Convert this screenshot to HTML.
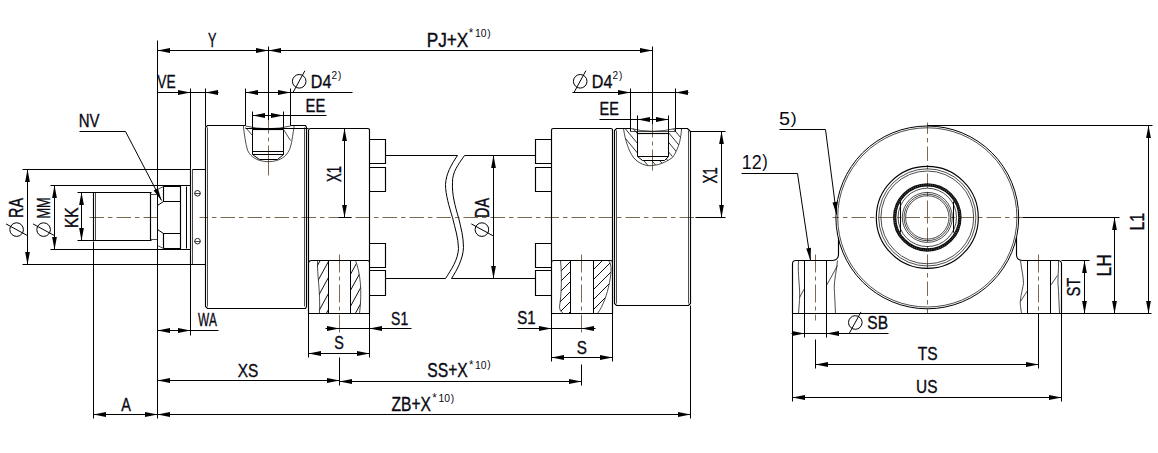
<!DOCTYPE html>
<html lang="en"><head><meta charset="utf-8"><title>Cylinder dimensions</title>
<style>
html,body{margin:0;padding:0;background:#fff}
svg{display:block}
.o{fill:none;stroke:#000;stroke-width:1.15}
.t{fill:none;stroke:#111;stroke-width:.75}
.d{fill:none;stroke:#000;stroke-width:1}
.c{fill:none;stroke:#7d6850;stroke-width:1;stroke-dasharray:14.5 4 4.5 4}
.a{fill:#000;stroke:none}
.w{fill:#fff;stroke:none}
text.ns{stroke:none}
text{font-family:"Liberation Sans",Arial,sans-serif;font-size:100px;fill:#0a0a14;stroke:#0a0a14;stroke-width:2;stroke-linejoin:round;font-kerning:none}
</style></head><body>
<svg width="1158" height="453" viewBox="0 0 1158 453">
<rect class="w" width="1158" height="453"/>
<path class="c" d="M89.5 217.5H157.5"/>
<path class="c" d="M199.5 217.5H695.5" style="stroke-dashoffset:6"/>
<path class="c" d="M268.5 120.5V178.5" style="stroke-dasharray:13 4 4 4 30"/>
<path class="c" d="M652.5 124.5V170.5" style="stroke-dasharray:13 4 4 4 30"/>
<path class="c" d="M339.5 254.5V333.5" style="stroke-dasharray:18 4 4 4"/>
<path class="c" d="M581.5 254.5V333.5" style="stroke-dasharray:18 4 4 4"/>
<path class="d" d="M157.5 40.5L157.5 418.5"/>
<path class="d" d="M157.5 50.5L652.5 50.5"/>
<path class="a" d="M157.50 50.50L170.00 48.10L170.00 52.90Z"/>
<path class="a" d="M268.50 50.50L256.00 52.90L256.00 48.10Z"/>
<path class="a" d="M268.50 50.50L281.00 48.10L281.00 52.90Z"/>
<path class="a" d="M652.50 50.50L640.00 52.90L640.00 48.10Z"/>
<path class="d" d="M268.5 46.5L268.5 120.5"/>
<path class="d" d="M652.5 46.5L652.5 124.5"/>
<path class="d" d="M157.5 92.5L218.5 92.5"/>
<path class="d" d="M190.5 88.5L190.5 335.5"/>
<path class="d" d="M205.5 88.5L205.5 126.5"/>
<path class="a" d="M190.50 92.50L178.00 94.90L178.00 90.10Z"/>
<path class="a" d="M205.50 92.50L218.00 90.10L218.00 94.90Z"/>
<path class="d" d="M245.5 92.5L352.5 92.5"/>
<path class="d" d="M245.5 88.5L245.5 125.5"/>
<path class="d" d="M290.5 88.5L290.5 125.5"/>
<path class="a" d="M245.50 92.50L258.00 90.10L258.00 94.90Z"/>
<path class="a" d="M290.50 92.50L278.00 94.90L278.00 90.10Z"/>
<circle class="d" cx="299.2" cy="81.3" r="6.8"/>
<path class="d" d="M293.1 92.3L304.9 70.7"/>
<path class="d" d="M252.5 115.5L326.5 115.5"/>
<path class="d" d="M252.5 111.5L252.5 129.5"/>
<path class="d" d="M283.5 111.5L283.5 129.5"/>
<path class="a" d="M252.50 115.50L265.00 113.10L265.00 117.90Z"/>
<path class="a" d="M283.50 115.50L271.00 117.90L271.00 113.10Z"/>
<path class="d" d="M572.5 92.5L688.5 92.5"/>
<path class="d" d="M630.5 88.5L630.5 131.5"/>
<path class="d" d="M675.5 88.5L675.5 131.5"/>
<path class="a" d="M630.50 92.50L618.00 94.90L618.00 90.10Z"/>
<path class="a" d="M675.50 92.50L688.00 90.10L688.00 94.90Z"/>
<circle class="d" cx="580.2" cy="81.3" r="6.8"/>
<path class="d" d="M574.1 92.3L585.9 70.7"/>
<path class="d" d="M599.5 119.5L668.5 119.5"/>
<path class="d" d="M637.5 115.5L637.5 133.5"/>
<path class="d" d="M668.5 115.5L668.5 133.5"/>
<path class="a" d="M637.50 119.50L650.00 117.10L650.00 121.90Z"/>
<path class="a" d="M668.50 119.50L656.00 121.90L656.00 117.10Z"/>
<path class="d" d="M79.5 131.5L125.5 131.5"/>
<path class="d" d="M125.5 131.5L161.5 200.5"/>
<path class="a" d="M161.50 200.50L153.64 190.49L157.90 188.29Z"/>
<path class="d" d="M22.5 169.5L190.5 169.5"/>
<path class="d" d="M22.5 264.5L205.5 264.5"/>
<path class="d" d="M27.5 169.5L27.5 264.5"/>
<path class="a" d="M27.50 169.50L29.90 182.00L25.10 182.00Z"/>
<path class="a" d="M27.50 264.50L25.10 252.00L29.90 252.00Z"/>
<circle class="d" cx="16.6" cy="229.6" r="6.8"/>
<path class="d" d="M27.6 235.7L6.0 223.9"/>
<path class="d" d="M50.5 185.5L190.5 185.5"/>
<path class="d" d="M50.5 249.5L190.5 249.5"/>
<path class="d" d="M54.5 185.5L54.5 249.5"/>
<path class="a" d="M54.50 185.50L56.90 198.00L52.10 198.00Z"/>
<path class="a" d="M54.50 249.50L52.10 237.00L56.90 237.00Z"/>
<circle class="d" cx="43.6" cy="229.6" r="6.8"/>
<path class="d" d="M54.6 235.7L33.0 223.9"/>
<path class="d" d="M77.5 192.5L151.5 192.5"/>
<path class="d" d="M77.5 240.5L151.5 240.5"/>
<path class="d" d="M81.5 192.5L81.5 240.5"/>
<path class="a" d="M81.50 192.50L83.90 205.00L79.10 205.00Z"/>
<path class="a" d="M81.50 240.50L79.10 228.00L83.90 228.00Z"/>
<path class="d" d="M344.5 128.5L344.5 217.5"/>
<path class="a" d="M344.50 128.50L346.90 141.00L342.10 141.00Z"/>
<path class="a" d="M344.50 217.50L342.10 205.00L346.90 205.00Z"/>
<path class="d" d="M338.5 217.5L351.5 217.5"/>
<path class="d" d="M493.5 155.5L493.5 278.5"/>
<path class="a" d="M493.50 155.50L495.90 168.00L491.10 168.00Z"/>
<path class="a" d="M493.50 278.50L491.10 266.00L495.90 266.00Z"/>
<circle class="d" cx="481.9" cy="229.6" r="6.8"/>
<path class="d" d="M492.9 235.7L471.3 223.9"/>
<path class="d" d="M690.5 131.5L725.5 131.5"/>
<path class="d" d="M695.5 217.5L725.5 217.5"/>
<path class="d" d="M721.5 131.5L721.5 217.5"/>
<path class="a" d="M721.50 131.50L723.90 144.00L719.10 144.00Z"/>
<path class="a" d="M721.50 217.50L719.10 205.00L723.90 205.00Z"/>
<path class="d" d="M157.5 330.5L218.5 330.5"/>
<path class="a" d="M157.50 330.50L170.00 328.10L170.00 332.90Z"/>
<path class="a" d="M190.50 330.50L178.00 332.90L178.00 328.10Z"/>
<path class="d" d="M325.5 328.5L411.5 328.5"/>
<path class="a" d="M339.50 328.50L327.00 330.90L327.00 326.10Z"/>
<path class="a" d="M369.50 328.50L382.00 326.10L382.00 330.90Z"/>
<path class="d" d="M308.5 313.5L308.5 357.5"/>
<path class="d" d="M369.5 313.5L369.5 357.5"/>
<path class="d" d="M308.5 353.5L369.5 353.5"/>
<path class="a" d="M308.50 353.50L321.00 351.10L321.00 355.90Z"/>
<path class="a" d="M369.50 353.50L357.00 355.90L357.00 351.10Z"/>
<path class="d" d="M517.5 328.5L595.5 328.5"/>
<path class="a" d="M551.50 328.50L539.00 330.90L539.00 326.10Z"/>
<path class="a" d="M581.50 328.50L594.00 326.10L594.00 330.90Z"/>
<path class="d" d="M551.5 313.5L551.5 361.5"/>
<path class="d" d="M612.5 313.5L612.5 361.5"/>
<path class="d" d="M551.5 357.5L612.5 357.5"/>
<path class="a" d="M551.50 357.50L564.00 355.10L564.00 359.90Z"/>
<path class="a" d="M612.50 357.50L600.00 359.90L600.00 355.10Z"/>
<path class="d" d="M157.5 380.5L339.5 380.5"/>
<path class="d" d="M339.5 381.5L581.5 381.5"/>
<path class="d" d="M339.5 357.5L339.5 385.5"/>
<path class="d" d="M581.5 364.5L581.5 385.5"/>
<path class="a" d="M157.50 380.50L170.00 378.10L170.00 382.90Z"/>
<path class="a" d="M339.50 380.50L327.00 382.90L327.00 378.10Z"/>
<path class="a" d="M339.50 381.50L352.00 379.10L352.00 383.90Z"/>
<path class="a" d="M581.50 381.50L569.00 383.90L569.00 379.10Z"/>
<path class="d" d="M93.5 241.5L93.5 418.5"/>
<path class="d" d="M93.5 414.5L690.5 414.5"/>
<path class="d" d="M690.5 305.5L690.5 418.5"/>
<path class="a" d="M93.50 414.50L106.00 412.10L106.00 416.90Z"/>
<path class="a" d="M157.50 414.50L145.00 416.90L145.00 412.10Z"/>
<path class="a" d="M157.50 414.50L170.00 412.10L170.00 416.90Z"/>
<path class="a" d="M690.50 414.50L678.00 416.90L678.00 412.10Z"/>
<path class="o" d="M93.5 192.5H150.5V240.5H93.5Z"/>
<path class="t" d="M95.5 192.5L95.5 240.5"/>
<path class="t" d="M150.5 194.5H157.5M150.5 239.5H157.5"/>
<path class="o" d="M163.5 186.5H180.5V248.5H163.5M163.5 186.5V201.5H180.5M163.5 248.5V233.5H180.5"/>
<path class="d" d="M157.5 205.5L163.5 201.5M157.5 229.5L163.5 233.5"/>
<path class="t" d="M157.5 189.5L163.5 186.5M157.5 245.5L163.5 248.5"/>
<path class="d" d="M186.5 186.5L186.5 248.5"/>
<path class="o" d="M190.5 169.5V264.5"/>
<path class="t" d="M192.5 169.5L192.5 264.5"/>
<path class="d" d="M192.5 169.5H205.5M192.5 264.5H205.5"/>
<circle class="t" cx="197.5" cy="193.3" r="2.8" style="stroke-width:.9"/>
<path class="t" d="M194.5 193.5L200.5 193.5"/>
<circle class="t" cx="197.5" cy="241.2" r="2.8" style="stroke-width:.9"/>
<path class="t" d="M194.5 241.5L200.5 241.5"/>
<path class="o" d="M205.5 127.5V306.5L207.5 308.5H305.5L306.5 306.5V127.5L305.5 125.5H290.5M245.5 125.5H207.5L205.5 127.5"/>
<path class="t" d="M207.5 127.5L207.5 306.5"/>
<path class="t" d="M304.5 127.5L304.5 306.5"/>
<path class="t" d="M245.5 126Q268 131.5 290.5 126"/>
<path class="d" d="M245.5 128.5H308.5"/>
<path class="t" d="M243.3 125.8C243.8 130 244.3 134 245 138.3C245.7 142.5 246.3 146.5 247.5 150C248.7 153 250.3 155 252.5 156.7C254.7 158.4 257 159.6 260 160.5C262.8 161.3 265.5 161.7 268.3 161.7C271.1 161.7 274 161.3 276.7 160.5C279.5 159.6 282 158.5 284.2 156.7C286.8 154.5 288.8 151.5 290 148.3C291.3 144.8 292 140.5 292.5 136.7C293 133 293.8 129.5 294.2 125.8"/>
<path class="o" d="M252.5 129.5H283.5"/>
<path class="d" d="M252.5 129.5V154.5H283.5V129.5M252.5 151.5H283.5M252.5 154.5L259.5 159.5H277.5L283.5 154.5"/>
<path class="t" d="M245.5 127.5L252.5 135.5M283.5 129.5L290.5 140.5"/>
<path class="o" d="M308.5 313.5V130.5Q308.8 128.5 310.5 128.5H367.5Q369.7 128.5 369.5 130.5V313.5Z"/>
<path class="o" d="M308.5 262.5Q309 260.5 311.5 260.5H367.5Q369.5 260.5 369.5 262.5"/>
<path class="d" d="M328.5 260.5V313.5M350.5 260.5V313.5"/>
<clipPath id="hl1"><path d="M317.5 260.5C317 275 320.5 290 319.5 313.3H328.3V260.5Z"/></clipPath>
<clipPath id="hl2"><path d="M350.8 260.5H355C360 272 362.5 290 359.5 313.3H350.8Z"/></clipPath>
<path class="t" d="M317.5 260.5C317 275 320.5 290 319.5 313.5M355.5 260.5C360 272 362.5 290 359.5 313.5"/>
<path class="t" style="stroke-width:.95;stroke:#000" clip-path="url(#hl1)" d="M315 222.0L330 194.7M315 238.0L330 210.7M315 254.0L330 226.7M315 270.0L330 242.7M315 286.0L330 258.7M315 302.0L330 274.7M315 318.0L330 290.7M315 334.0L330 306.7M315 350.0L330 322.7M315 366.0L330 338.7"/>
<path class="t" style="stroke-width:.95;stroke:#000" clip-path="url(#hl2)" d="M349 229.0L364 201.7M349 245.0L364 217.7M349 261.0L364 233.7M349 277.0L364 249.7M349 293.0L364 265.7M349 309.0L364 281.7M349 325.0L364 297.7M349 341.0L364 313.7M349 357.0L364 329.7M349 373.0L364 345.7"/>
<path class="o" d="M369.5 139.5H385.5V163.5H369.5"/>
<path class="o" d="M369.5 167.5H385.5V191.5H369.5"/>
<path class="o" d="M369.5 243.5H385.5V267.5H369.5"/>
<path class="o" d="M369.5 270.5H385.5V295.5H369.5"/>
<path class="o" d="M551.5 139.5H535.5V163.5H551.5"/>
<path class="o" d="M551.5 167.5H535.5V191.5H551.5"/>
<path class="o" d="M551.5 243.5H535.5V267.5H551.5"/>
<path class="o" d="M551.5 270.5H535.5V295.5H551.5"/>
<path class="o" d="M385.5 155.5H457.5M464.5 155.5H535.5M385.5 278.5H445.5M451.5 278.5H535.5"/>
<path class="d" d="M457.5 155.5C451 165 446 174 445.5 184.5C445.6 195 449 206 452.5 217.5C455 228 458.3 238 458.5 248.5C458 260 451 270 445.5 278.5"/>
<path class="d" d="M464.5 155.5C458 165 452.3 172 452.5 182.5C451.8 194 455 206 458.5 217.5C461 228 463.5 237 463.5 247.5C463 259 457 270 451.5 278.5"/>
<path class="o" d="M551.5 313.5V130.5Q551.5 128.4 553.5 128.5H610.5Q612.6 128.4 612.5 130.5V313.5Z"/>
<path class="o" d="M551.5 262.5Q551.7 260.4 553.5 260.5H610.5Q612.4 260.4 612.5 262.5"/>
<path class="d" d="M570.5 260.5V313.5M593.5 260.5V313.5"/>
<clipPath id="hr1"><path d="M560.8 260.4C562 275 561.5 295 559.5 306C559.5 310 561 312 563 313.3H570.5V260.4Z"/></clipPath>
<clipPath id="hr2"><path d="M593.3 260.4H608C612 264 611.5 272 609.5 282C607 295 603 306 597 313.3H593.3Z"/></clipPath>
<path class="t" d="M560.5 260.5C562 275 561.5 295 559.5 306.5C559.5 310 561 312 563.5 313.5M608.5 260.5C612 264 611.5 272 609.5 282.5C607 295 603 306 597.5 313.5"/>
<path class="t" style="stroke-width:.95;stroke:#000" clip-path="url(#hr1)" d="M558 224.0L572 210.0M558 234.0L572 220.0M558 244.0L572 230.0M558 254.0L572 240.0M558 264.0L572 250.0M558 274.0L572 260.0M558 284.0L572 270.0M558 294.0L572 280.0M558 304.0L572 290.0M558 314.0L572 300.0M558 324.0L572 310.0M558 334.0L572 320.0M558 344.0L572 330.0M558 354.0L572 340.0M558 364.0L572 350.0"/>
<path class="t" style="stroke-width:.95;stroke:#000" clip-path="url(#hr2)" d="M592 221.0L614 199.0M592 231.0L614 209.0M592 241.0L614 219.0M592 251.0L614 229.0M592 261.0L614 239.0M592 271.0L614 249.0M592 281.0L614 259.0M592 291.0L614 269.0M592 301.0L614 279.0M592 311.0L614 289.0M592 321.0L614 299.0M592 331.0L614 309.0M592 341.0L614 319.0M592 351.0L614 329.0M592 361.0L614 339.0M592 371.0L614 349.0"/>
<path class="o" d="M630.5 128.5H616.5L614.5 130.5V303.5L616.5 305.5H688.5L690.5 303.5V131.5L687.5 128.5H675.5"/>
<path class="t" d="M616.5 130.5L616.5 303.5"/>
<path class="t" d="M688.5 130.5L688.5 303.5"/>
<path class="t" d="M630.5 128.5Q652.5 134 675.5 128.5"/>
<path class="t" d="M630.5 131.5L675.5 131.5"/>
<clipPath id="pr"><path d="M623.3 128.8C624.5 135 625.5 140 627.5 145C629 150 631 154 633.5 157.5C636.5 161.5 641 164 646 165.3C650 166 654 165.5 658 164.5C663 163 668 161 672 157C675.5 153.5 678 148 679.5 142C680.8 137 681.3 133 681.7 128.8H668.6V156.3L664 160.8H642L637.3 156.3V128.5Z"/></clipPath>
<path class="t" d="M623.5 128.5C624.5 135 625.5 140 627.5 145.5C629 150 631 154 633.5 157.5C636.5 161.5 641 164 646.5 165.5C650 166 654 165.5 658.5 164.5C663 163 668 161 672.5 157.5C675.5 153.5 678 148 679.5 142.5C680.8 137 681.3 133 681.5 128.5"/>
<path class="o" d="M637.5 133.5H668.5"/>
<path class="d" d="M637.5 131.5V156.5H668.5V131.5M637.5 156.5L642.5 160.5H664.5L668.5 156.5"/>
<path class="t" style="stroke-width:.85" clip-path="url(#pr)" d="M562.0 120L612.0 180M570.0 120L620.0 180M578.0 120L628.0 180M586.0 120L636.0 180M594.0 120L644.0 180M602.0 120L652.0 180M610.0 120L660.0 180M618.0 120L668.0 180M626.0 120L676.0 180M634.0 120L684.0 180M642.0 120L692.0 180M650.0 120L700.0 180M658.0 120L708.0 180M666.0 120L716.0 180M674.0 120L724.0 180M682.0 120L732.0 180M690.0 120L740.0 180M698.0 120L748.0 180"/>
<path class="c" d="M927.5 122.5V313.5" style="stroke-dashoffset:3"/>
<path class="c" d="M832.5 217.5H1022.5" style="stroke-dashoffset:8"/>
<path class="c" d="M815.5 254.5V320.5" style="stroke-dasharray:18 4 4 4"/>
<path class="c" d="M1038.5 254.5V320.5" style="stroke-dasharray:18 4 4 4"/>
<circle class="d" cx="927.3" cy="217.4" r="91.4"/>
<circle class="t" cx="927.3" cy="217.4" r="89.6"/>
<circle class="o" cx="927.3" cy="217.4" r="51"/>
<circle class="t" cx="927.3" cy="217.4" r="48.6"/>
<circle class="t" cx="927.3" cy="217.4" r="46.4"/>
<circle class="t" cx="927.3" cy="217.4" r="29.2"/>
<circle class="t" cx="927.3" cy="217.4" r="25"/>
<circle class="t" cx="927.3" cy="217.4" r="23.3"/>
<circle class="t" cx="927.3" cy="217.4" r="21.7"/>
<circle cx="927.3" cy="217.4" r="32.6" fill="none" stroke="#0c0c0c" stroke-width="3.3"/>
<circle cx="927.3" cy="217.4" r="32.6" fill="none" stroke="#666" stroke-width="1.6" style="stroke-dasharray:0.6 1.6"/>
<path class="d" d="M900.5 201.5V232.5M953.5 201.5V232.5"/>
<path class="d" d="M924.3 217.5H930.3M927.5 214.4V220.4" style="stroke:#7d6850"/>
<path class="o" d="M838.5 237.5V254.5Q838.3 260.3 832.5 260.5H796.5Q792.5 260.3 792.5 263.5V313.5H1061.5V263.5Q1061.3 260.3 1057.5 260.5H1022.5Q1016.3 260.3 1016.5 254.5V237.5"/>
<path class="d" d="M804.5 260.5V337.5M826.5 260.5V337.5M1027.5 260.5V313.5M1050.5 260.5V313.5"/>
<path class="t" d="M798.5 260.5C797.5 275 800.5 290 799.5 300.5L798.5 313.5M799.5 297.5L804.5 288.5M837.5 260.5C836 275 833.5 282 834.5 292.5L835.5 313.5M826.5 285.5L837.5 265.5"/>
<path class="t" d="M1020.5 260.5C1021.5 270 1023.5 276 1023.5 283.5C1022 292 1019.5 300 1020.5 306.5L1021.5 313.5M1020.5 301.5L1027.5 290.5M1058.5 260.5C1059 270 1057 280 1058.5 290.5L1059.5 313.5M1050.5 285.5L1057.5 275.5"/>
<path class="d" d="M1061.5 313.5L1151.5 313.5"/>
<path class="d" d="M1061.5 260.5L1089.5 260.5"/>
<path class="d" d="M1022.5 217.5L1119.5 217.5"/>
<path class="d" d="M927.5 125.5L1152.5 125.5"/>
<path class="d" d="M1084.5 260.5L1084.5 313.5"/>
<path class="a" d="M1084.50 260.50L1086.90 273.00L1082.10 273.00Z"/>
<path class="a" d="M1084.50 313.50L1082.10 301.00L1086.90 301.00Z"/>
<path class="d" d="M1114.5 217.5L1114.5 313.5"/>
<path class="a" d="M1114.50 217.50L1116.90 230.00L1112.10 230.00Z"/>
<path class="a" d="M1114.50 313.50L1112.10 301.00L1116.90 301.00Z"/>
<path class="d" d="M1148.5 125.5L1148.5 313.5"/>
<path class="a" d="M1148.50 125.50L1150.90 138.00L1146.10 138.00Z"/>
<path class="a" d="M1148.50 313.50L1146.10 301.00L1150.90 301.00Z"/>
<path class="d" d="M791.5 333.5L888.5 333.5"/>
<path class="a" d="M804.50 333.50L792.00 335.90L792.00 331.10Z"/>
<path class="a" d="M826.50 333.50L839.00 331.10L839.00 335.90Z"/>
<circle class="d" cx="855.3" cy="322.5" r="6.8"/>
<path class="d" d="M849.2 333.5L861.0 311.9"/>
<path class="d" d="M815.5 339.5L815.5 368.5"/>
<path class="d" d="M1038.5 313.5L1038.5 368.5"/>
<path class="d" d="M815.5 364.5L1038.5 364.5"/>
<path class="a" d="M815.50 364.50L828.00 362.10L828.00 366.90Z"/>
<path class="a" d="M1038.50 364.50L1026.00 366.90L1026.00 362.10Z"/>
<path class="d" d="M792.5 313.5L792.5 401.5"/>
<path class="d" d="M1061.5 313.5L1061.5 401.5"/>
<path class="d" d="M792.5 397.5L1061.5 397.5"/>
<path class="a" d="M792.50 397.50L805.00 395.10L805.00 399.90Z"/>
<path class="a" d="M1061.50 397.50L1049.00 399.90L1049.00 395.10Z"/>
<path class="d" d="M779.5 129.5L825.5 129.5"/>
<path class="d" d="M825.5 129.5L836.5 214.5"/>
<path class="a" d="M836.50 214.50L832.51 202.41L837.27 201.80Z"/>
<path class="d" d="M741.5 173.5L797.5 173.5"/>
<path class="d" d="M797.5 173.5L810.5 260.5"/>
<path class="a" d="M810.50 260.50L806.24 248.51L810.98 247.78Z"/>
<g>
<text transform="matrix(0.1268 0 0 0.1977 208.02 46.60)">Y</text>
<text transform="matrix(0.1724 0 0 0.1977 426.69 46.60)">PJ+X</text>
<text class="ns" transform="matrix(0.1033 0 0 0.1076 475.01 37.20)"><tspan x="-60.0" y="1.2" font-size="111.2">*</tspan><tspan x="0" y="0">10</tspan><tspan x="117.4" y="-3.7" font-size="98.8">)</tspan></text>
<text transform="matrix(0.1376 0 0 0.1890 157.24 88.00)">VE</text>
<text transform="matrix(0.1611 0 0 0.1904 310.78 88.40)">D4</text>
<text class="ns" transform="matrix(0.1010 0 0 0.1076 331.39 79.20)"><tspan x="0" y="0">2</tspan><tspan x="64.6" y="-3.7" font-size="98.8">)</tspan></text>
<text transform="matrix(0.1489 0 0 0.1890 305.48 111.70)">EE</text>
<text transform="matrix(0.1611 0 0 0.1904 591.78 88.40)">D4</text>
<text class="ns" transform="matrix(0.1010 0 0 0.1076 612.39 79.20)"><tspan x="0" y="0">2</tspan><tspan x="64.6" y="-3.7" font-size="98.8">)</tspan></text>
<text transform="matrix(0.1447 0 0 0.1875 599.61 115.20)">EE</text>
<text transform="matrix(0.1497 0 0 0.1890 78.77 127.00)">NV</text>
<text transform="matrix(0 -0.1433 0.1933 0 23.30 217.88)">RA</text>
<text transform="matrix(0 -0.1278 0.1904 0 50.30 218.55)">MM</text>
<text transform="matrix(0 -0.1547 0.1890 0 77.80 227.97)">KK</text>
<text transform="matrix(0 -0.1302 0.1933 0 340.80 181.99)">X1</text>
<text transform="matrix(0 -0.1433 0.1991 0 489.00 217.88)">DA</text>
<text transform="matrix(0 -0.1346 0.1991 0 717.20 183.60)">X1</text>
<text transform="matrix(0.1184 0 0 0.1890 197.95 326.30)">WA</text>
<text transform="matrix(0.1400 0 0 0.1875 391.06 324.50)">S1</text>
<text transform="matrix(0.1442 0 0 0.1875 334.35 349.40)">S</text>
<text transform="matrix(0.1506 0 0 0.1919 517.32 324.20)">S1</text>
<text transform="matrix(0.1529 0 0 0.1875 576.81 353.50)">S</text>
<text transform="matrix(0.1541 0 0 0.1919 237.65 377.00)">XS</text>
<text transform="matrix(0.1448 0 0 0.1919 121.17 410.60)">A</text>
<text transform="matrix(0.1568 0 0 0.1933 427.29 377.00)">SS+X</text>
<text class="ns" transform="matrix(0.1033 0 0 0.1076 475.11 368.60)"><tspan x="-60.0" y="1.2" font-size="111.2">*</tspan><tspan x="0" y="0">10</tspan><tspan x="117.4" y="-3.7" font-size="98.8">)</tspan></text>
<text transform="matrix(0.1555 0 0 0.1948 391.51 410.60)">ZB+X</text>
<text class="ns" transform="matrix(0.1033 0 0 0.1076 438.51 402.10)"><tspan x="-60.0" y="1.2" font-size="111.2">*</tspan><tspan x="0" y="0">10</tspan><tspan x="117.4" y="-3.7" font-size="98.8">)</tspan></text>
<text class="ns" transform="matrix(0.1983 0 0 0.1788 779.01 125.20)"><tspan x="0" y="0">5</tspan><tspan x="58.9" y="-7.5" font-size="90.1">)</tspan></text>
<text class="ns" transform="matrix(0.1795 0 0 0.1933 741.73 169.20)"><tspan x="0" y="0">12</tspan><tspan x="114.1" y="-9.8" font-size="92.2">)</tspan></text>
<text transform="matrix(0.1554 0 0 0.1890 867.29 329.20)">SB</text>
<text transform="matrix(0.1554 0 0 0.1890 917.65 360.00)">TS</text>
<text transform="matrix(0.1540 0 0 0.1919 916.11 393.20)">US</text>
<text transform="matrix(0 -0.1472 0.1890 0 1080.00 296.47)">ST</text>
<text transform="matrix(0 -0.1722 0.2006 0 1110.80 276.41)">LH</text>
<text transform="matrix(0 -0.1579 0.2049 0 1144.40 230.50)">L1</text>
</g>
</svg>
</body></html>
